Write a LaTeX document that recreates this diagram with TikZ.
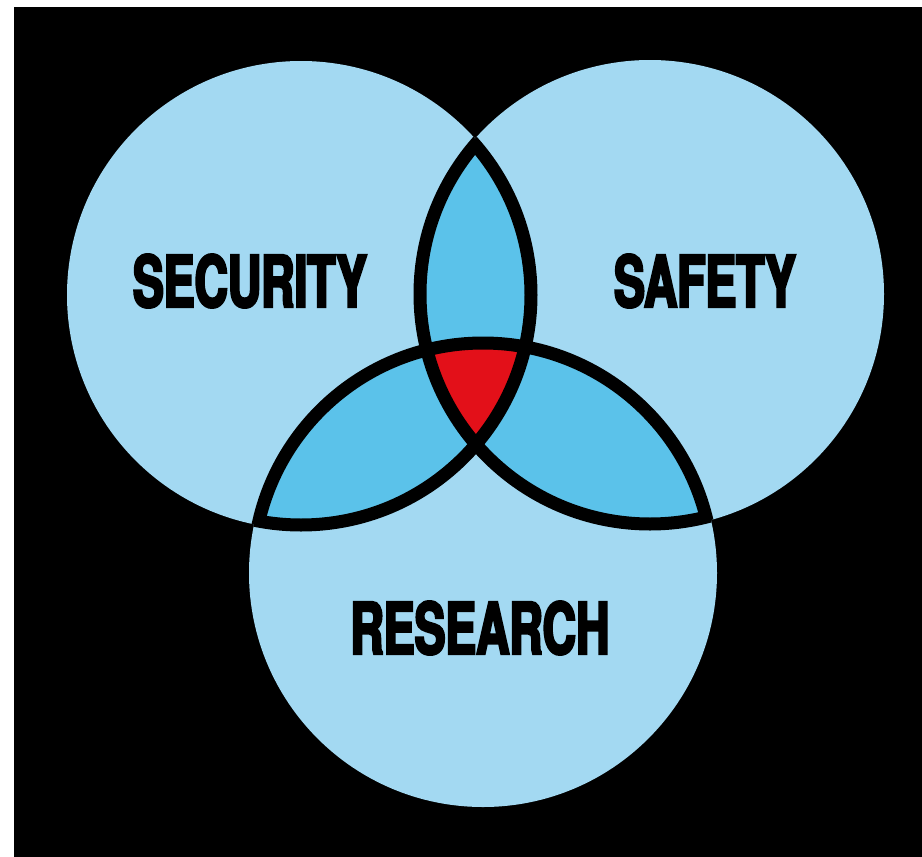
\documentclass[tikz,border=0pt]{standalone}
\usepackage{fontspec}
\newfontfamily\vennfont[FakeStretch=0.65,FakeBold=3.5]{TeX Gyre Heros Bold}
\definecolor{lightblue}{RGB}{163,217,242}
\definecolor{midblue}{RGB}{91,194,234}
\definecolor{vennred}{RGB}{227,16,25}
\tikzset{
  vennlabel/.style={font=\vennfont\fontsize{71}{71}\selectfont, text=black, inner sep=0pt, anchor=center},
  vennedge/.style={draw=black, line width=13pt}
}
\begin{document}
\begin{tikzpicture}[x=1pt,y=-1pt]
\fill[white] (0,0) rectangle (922,857);
\useasboundingbox (0,0) rectangle (922,857);
\fill[black] (14,7) rectangle (922,857);
\coordinate (cl) at (301,295);
\coordinate (cr) at (650,294);
\coordinate (cb) at (483,573);
\def\R{230pt}
\def\Ro{234pt}
% base fills
\fill[lightblue] (cl) circle (\Ro);
\fill[lightblue] (cr) circle (\Ro);
\fill[lightblue] (cb) circle (\Ro);
% pairwise intersections
\begin{scope}
  \clip (cl) circle (\R);
  \fill[midblue] (cr) circle (\R);
  \fill[midblue] (cb) circle (\R);
\end{scope}
\begin{scope}
  \clip (cr) circle (\R);
  \fill[midblue] (cb) circle (\R);
\end{scope}
% triple intersection
\begin{scope}
  \clip (cl) circle (\R);
  \clip (cr) circle (\R);
  \fill[vennred] (cb) circle (\R);
\end{scope}
% outlines, only where they cross another circle
\begin{scope}
  \clip (cr) circle (\Ro) (cb) circle (\Ro);
  \draw[vennedge] (cl) circle (\R);
\end{scope}
\begin{scope}
  \clip (cl) circle (\Ro) (cb) circle (\Ro);
  \draw[vennedge] (cr) circle (\R);
\end{scope}
\begin{scope}
  \clip (cl) circle (\Ro) (cr) circle (\Ro);
  \draw[vennedge] (cb) circle (\R);
\end{scope}
% labels
\node[vennlabel] (security) at (250,281) {SECURITY};
\node[vennlabel] (safety) at (705,281) {SAFETY};
\node[vennlabel] (research) at (480,628) {RESEARCH};
\end{tikzpicture}
\end{document}
